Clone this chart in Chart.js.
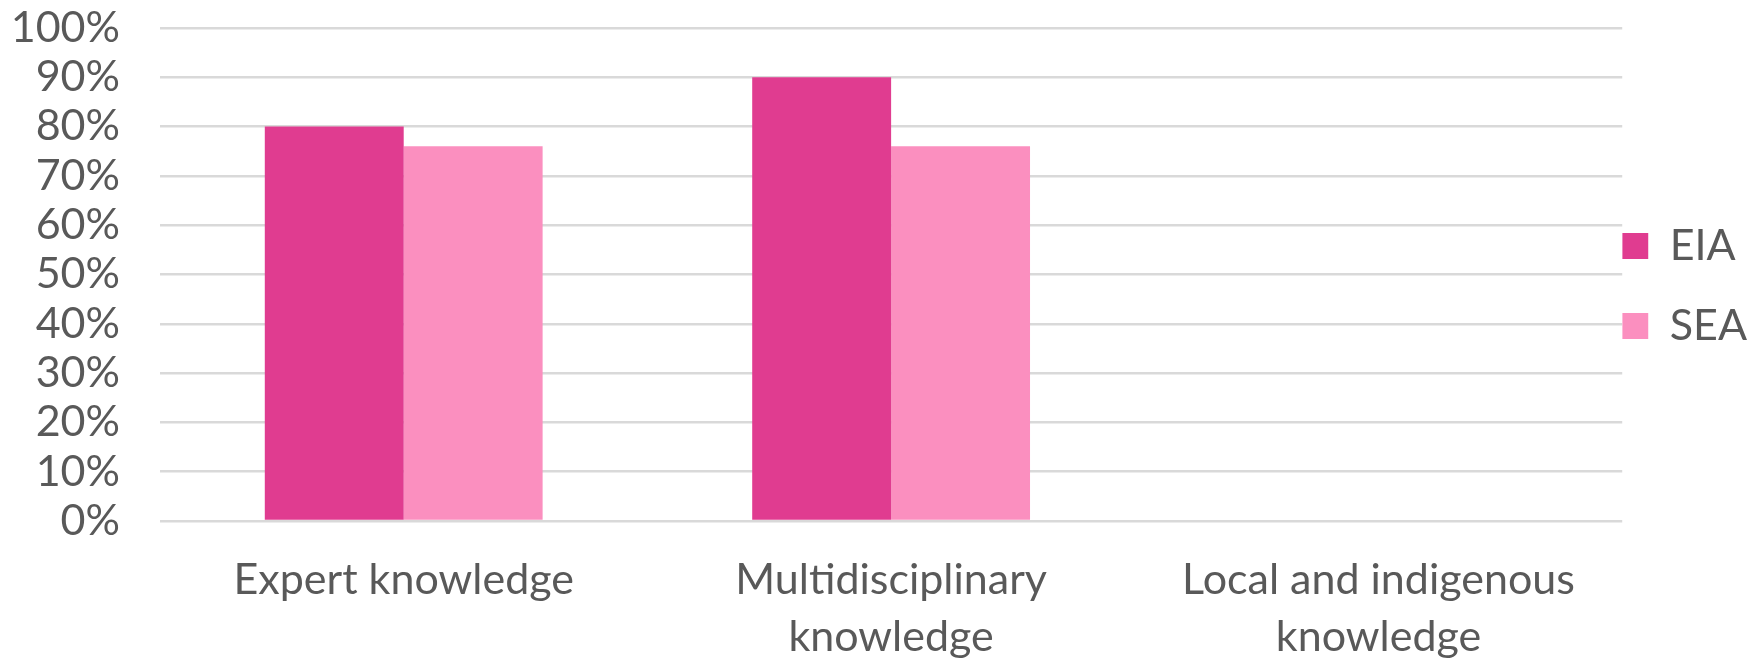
<!DOCTYPE html>
<html>
<head>
<meta charset="utf-8">
<script src="https://cdn.jsdelivr.net/npm/chart.js@4"></script>
<style>
  html, body { margin: 0; padding: 0; background: #ffffff; }
  #wrap { width: 1757px; height: 661px; }
</style>
</head>
<body>
<div id="wrap"><canvas id="knowledgeChart"></canvas></div>
<script>
// Data
const categories = [
    ['Expert knowledge'],
    ['Multidisciplinary', 'knowledge'],
    ['Local and indigenous', 'knowledge']
];
const eiaValues = [80, 90, 0];
const seaValues = [76, 76, 0];
const yTicks = [0, 10, 20, 30, 40, 50, 60, 70, 80, 90, 100];

const textColor = '#595959';
const fontFamily = 'Lato, "Open Sans", sans-serif';

const ctx = document.getElementById('knowledgeChart').getContext('2d');

new Chart(ctx, {
    type: 'bar',
    data: {
        labels: categories,
        datasets: [{
                label: 'EIA',
                data: eiaValues,
                backgroundColor: '#E03C90',
                borderWidth: 0,
            },
            {
                label: 'SEA',
                data: seaValues,
                backgroundColor: '#FB8FBF',
                borderWidth: 0,
            }
        ]
    },
    options: {
        responsive: true,
        maintainAspectRatio: false,
        animation: false,
        layout: {
            padding: { top: 28, right: 0, bottom: 0, left: 0 }
        },
        datasets: {
            bar: {
                categoryPercentage: 0.57,
                barPercentage: 1.0,
            }
        },
        plugins: {
            tooltip: { enabled: false },
            legend: {
                position: 'right',
                align: 'center',
                labels: {
                    color: textColor,
                    boxWidth: 26,
                    boxHeight: 26,
                    padding: 0,
                    font: { family: fontFamily, size: 43, lineHeight: 80 / 43 },
                    // array text -> row height follows font lineHeight;
                    // an empty line after the last item lifts the block a bit
                    generateLabels: (chart) => {
                        const items = Chart.defaults.plugins.legend.labels.generateLabels(chart);
                        return items.map((item, i) => ({
                            ...item,
                            text: i === items.length - 1 ? [item.text, ''] : [item.text]
                        }));
                    },
                }
            }
        },
        scales: {
            x: {
                grid: { display: false, drawTicks: false },
                border: { display: false },
                ticks: {
                    color: textColor,
                    padding: 31,
                    maxRotation: 0,
                    autoSkip: false,
                    font: { family: fontFamily, size: 43, lineHeight: 57 / 43 },
                },
                afterFit: (scale) => { scale.height = 140; }
            },
            y: {
                min: 0,
                max: 100,
                afterBuildTicks: (scale) => {
                    scale.ticks = yTicks.map(v => ({ value: v }));
                },
                grid: {
                    color: '#D9D9D9',
                    lineWidth: 2.5,
                    drawTicks: true,
                    tickLength: 38,
                    tickColor: 'rgba(0,0,0,0)',
                },
                border: { display: false },
                ticks: {
                    color: textColor,
                    padding: 2,
                    autoSkip: false,
                    font: { family: fontFamily, size: 43 },
                    callback: (value) => value + '%',
                },
                afterFit: (scale) => { scale.width = 160; }
            }
        }
    }
});
</script>
</body>
</html>
